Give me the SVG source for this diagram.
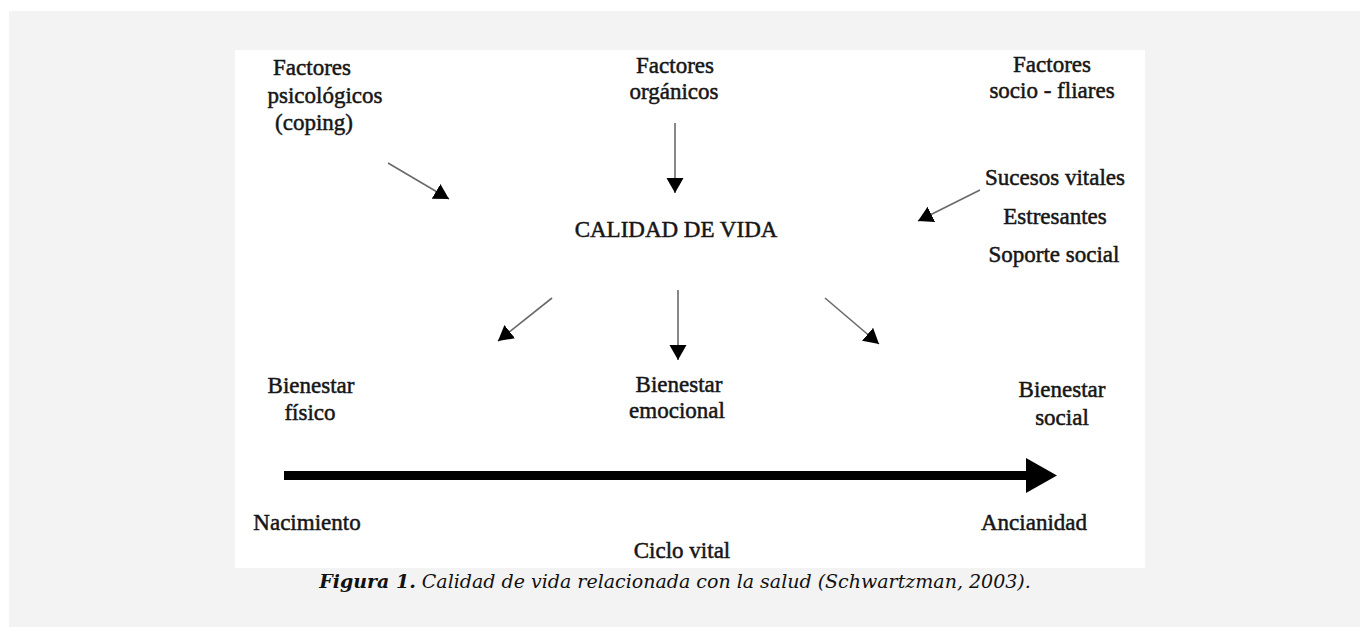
<svg xmlns="http://www.w3.org/2000/svg" width="1360" height="627" viewBox="0 0 1360 627">
<defs>
<style>
.t{font-family:"Liberation Serif","Times New Roman",serif;font-size:23px;fill:#161616;stroke:#161616;stroke-width:0.5;text-anchor:middle}
.c{stroke:#6a6a6a;stroke-width:1.6;fill:none;marker-end:url(#ah)}
.cap{font-family:"DejaVu Serif",serif;font-size:19px;font-style:italic;fill:#111;text-anchor:middle}
</style>
<marker id="ah" markerUnits="userSpaceOnUse" markerWidth="18" markerHeight="18" refX="15" refY="8.5" orient="auto" viewBox="0 0 18 18">
<path d="M0,0 L15,8.5 L0,17 z" fill="#000"/>
</marker>
<marker id="big" markerUnits="userSpaceOnUse" markerWidth="32" markerHeight="36" refX="1" refY="17.5" orient="auto" viewBox="0 0 32 36">
<path d="M0,0 L31,17.5 L0,35 z" fill="#000"/>
</marker>
</defs>
<rect x="9" y="11" width="1351" height="616" fill="#f3f3f3"/>
<rect x="235" y="50" width="910" height="518" fill="#ffffff"/>

<g id="factores-psicologicos">
<text class="t" x="312" y="75">Factores</text>
<text class="t" x="325" y="103">psicológicos</text>
<text class="t" x="314" y="130">(coping)</text>
</g>
<g id="factores-organicos">
<text class="t" x="675" y="73">Factores</text>
<text class="t" x="674" y="99">orgánicos</text>
</g>
<g id="factores-sociofamiliares">
<text class="t" x="1052" y="72">Factores</text>
<text class="t" x="1052" y="98">socio - fliares</text>
</g>
<g id="sucesos">
<text class="t" x="1055" y="185">Sucesos vitales</text>
<text class="t" x="1055" y="224">Estresantes</text>
<text class="t" x="1054" y="262">Soporte social</text>
</g>
<g id="calidad-de-vida">
<text class="t" x="676" y="237">CALIDAD DE VIDA</text>
</g>
<g id="bienestar-fisico">
<text class="t" x="311" y="393">Bienestar</text>
<text class="t" x="310" y="420">físico</text>
</g>
<g id="bienestar-emocional">
<text class="t" x="679" y="392">Bienestar</text>
<text class="t" x="677" y="418">emocional</text>
</g>
<g id="bienestar-social">
<text class="t" x="1062" y="397">Bienestar</text>
<text class="t" x="1062" y="425">social</text>
</g>
<g id="nacimiento">
<text class="t" x="307" y="530">Nacimiento</text>
</g>
<g id="ancianidad">
<text class="t" x="1034" y="530">Ancianidad</text>
</g>
<g id="ciclo-vital">
<text class="t" x="682" y="558">Ciclo vital</text>
</g>

<g id="connectors">
<line class="c" x1="388" y1="163" x2="449" y2="199"/>
<line class="c" x1="675" y1="123" x2="675" y2="193"/>
<line class="c" x1="980" y1="190" x2="918" y2="221"/>
<line class="c" x1="552" y1="298" x2="498" y2="341"/>
<line class="c" x1="678" y1="290" x2="678" y2="360"/>
<line class="c" x1="825" y1="298" x2="879" y2="344"/>
<line x1="284" y1="475.5" x2="1027" y2="475.5" stroke="#000" stroke-width="9" marker-end="url(#big)"/>
</g>

<g id="caption">
<text class="cap" x="675" y="588"><tspan font-weight="bold">Figura 1.</tspan> Calidad de vida relacionada con la salud (Schwartzman, 2003).</text>
</g>
</svg>
